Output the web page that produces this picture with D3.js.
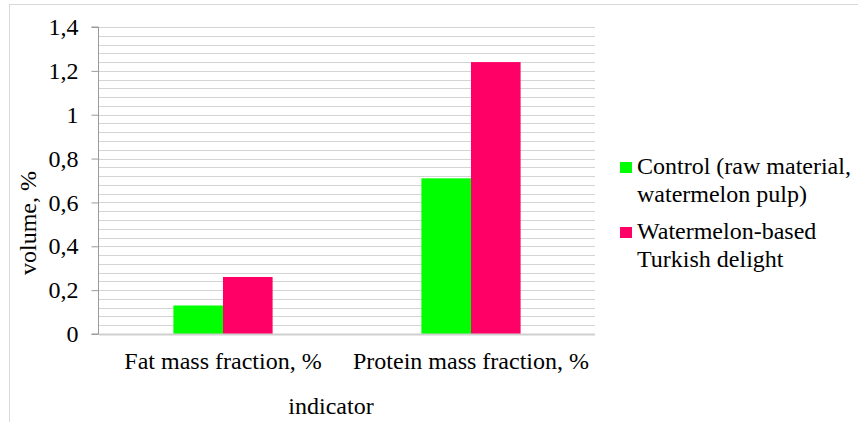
<!DOCTYPE html>
<html>
<head>
<meta charset="utf-8">
<script src="https://cdn.jsdelivr.net/npm/d3@7"></script>
<style>
  body { margin: 0; background: #fff; }
  svg text { font-family: "Liberation Serif", "Times New Roman", Times, "DejaVu Serif", serif; }
</style>
</head>
<body>
<svg id="chart" width="858" height="422"></svg>
<script>
// data
const categories = ["Fat mass fraction, %", "Protein mass fraction, %"];
const seriesNames = ["Control (raw material, watermelon pulp)", "Watermelon-based Turkish delight"];
const controlValues = [0.13, 0.71];
const delightValues = [0.26, 1.24];
const yTicks = [0, 0.2, 0.4, 0.6, 0.8, 1, 1.2, 1.4];
const legendLines = [["Control (raw material,", "watermelon pulp)"], ["Watermelon-based", "Turkish delight"]];
const colors = ["#00ff00", "#ff0066"];

const svg = d3.select("#chart");
const margin = { top: 27, right: 263, bottom: 88, left: 99 };
const width = 858, height = 422;
const fs = "24px";

// outer frame (only top and left visible in the crop)
svg.append("rect")
  .attr("x", 9.5).attr("y", 4.5)
  .attr("width", 1000).attr("height", 1000)
  .attr("fill", "none").attr("stroke", "#d9d9d9");

const x = d3.scaleBand()
  .domain(categories)
  .range([margin.left, width - margin.right]);

const y = d3.scaleLinear()
  .domain([0, 1.4])
  .range([height - margin.bottom, margin.top]);

const groupW = x.bandwidth() * 0.4;
const x1 = d3.scaleBand()
  .domain(seriesNames)
  .range([0, groupW]);

// minor gridlines
const grid = d3.range(0, 1.4001, 0.04).filter(v => v > 0);
svg.append("g")
  .selectAll("line")
  .data(grid)
  .join("line")
  .attr("x1", margin.left).attr("x2", width - margin.right)
  .attr("y1", d => Math.round(y(d)) + 0.5).attr("y2", d => Math.round(y(d)) + 0.5)
  .attr("stroke", "#d4d4d4")
  .attr("stroke-width", 1.2);

// bars
const rows = categories.map((c, i) => ({ cat: c, vals: [controlValues[i], delightValues[i]] }));
svg.append("g")
  .selectAll("g")
  .data(rows)
  .join("g")
  .attr("transform", d => `translate(${x(d.cat) + (x.bandwidth() - groupW) / 2},0)`)
  .selectAll("rect")
  .data(d => d.vals.map((v, j) => ({ s: seriesNames[j], v, j })))
  .join("rect")
  .attr("x", d => x1(d.s))
  .attr("width", x1.bandwidth())
  .attr("y", d => y(d.v))
  .attr("height", d => y(0) - y(d.v))
  .attr("fill", d => colors[d.j]);

// x axis baseline
svg.append("line")
  .attr("x1", margin.left).attr("x2", width - margin.right)
  .attr("y1", y(0) + 0.5).attr("y2", y(0) + 0.5)
  .attr("stroke", "#d0d0d0").attr("stroke-width", 2);

// y axis
const yAxis = svg.append("g")
  .attr("transform", `translate(${margin.left - 0.5},0)`)
  .call(d3.axisLeft(y).tickValues(yTicks).tickSize(7).tickPadding(13)
    .tickFormat(d => d3.format("~g")(d).replace(".", ",")));
yAxis.attr("font-family", null).attr("font-size", null);
yAxis.select(".domain").attr("stroke", "#9a9a9a").attr("d", `M-7,${y(1.4)}H0V${y(0)}H-7`);
yAxis.selectAll(".tick line").attr("stroke", "#9a9a9a");
yAxis.selectAll(".tick text")
  .attr("fill", "#000")
  .style("font-size", fs);

// category labels
svg.append("g")
  .selectAll("text")
  .data(categories)
  .join("text")
  .attr("x", d => x(d) + x.bandwidth() / 2)
  .attr("y", 369)
  .attr("text-anchor", "middle")
  .style("font-size", fs)
  .text(d => d);

// axis titles
svg.append("text")
  .attr("x", 331).attr("y", 414)
  .attr("text-anchor", "middle")
  .style("font-size", fs)
  .text("indicator");

svg.append("text")
  .attr("transform", "translate(36,223) rotate(-90)")
  .attr("text-anchor", "middle")
  .style("font-size", fs)
  .text("volume, %");

// legend
const legend = svg.append("g")
  .selectAll("g")
  .data(legendLines)
  .join("g")
  .attr("transform", (d, i) => `translate(620,${162 + i * 65})`);

legend.append("rect")
  .attr("width", 12).attr("height", 11)
  .attr("fill", (d, i) => colors[i]);

legend.append("text")
  .attr("y", 12)
  .style("font-size", fs)
  .selectAll("tspan")
  .data(d => d)
  .join("tspan")
  .attr("x", 17)
  .attr("dy", (d, i) => i === 0 ? 0 : 28)
  .text(d => d);
</script>
</body>
</html>
